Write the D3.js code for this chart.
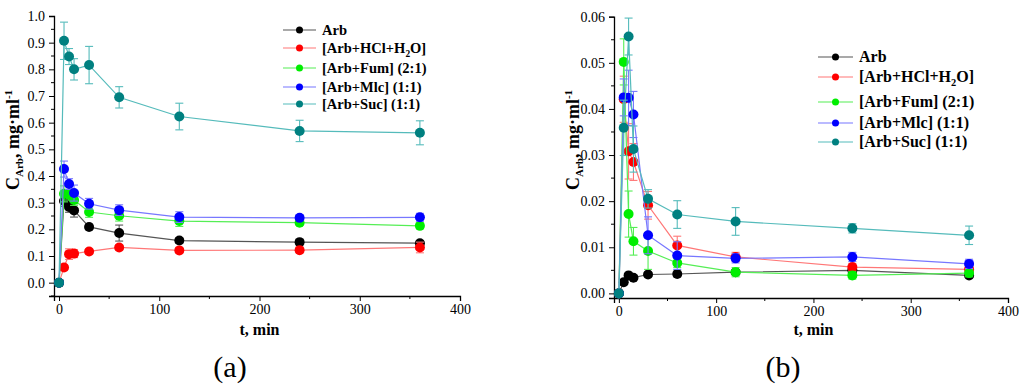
<!DOCTYPE html>
<html>
<head>
<meta charset="utf-8">
<script src="https://cdn.jsdelivr.net/npm/d3@7"></script>
<style>
  body { margin: 0; background: #fff; }
  svg, svg text { font-family: "Liberation Serif", "Times New Roman", serif; }
</style>
</head>
<body>
<svg id="chart" width="1024" height="386"></svg>
<script>
const times = [0, 5, 10, 15, 30, 60, 120, 240, 360];

const seriesNames = ["Arb", "[Arb+HCl+H2O]", "[Arb+Fum] (2:1)", "[Arb+Mlc] (1:1)", "[Arb+Suc] (1:1)"];
const dotColors = ["#000000", "#ff0000", "#00ee00", "#0000ff", "#008080"];
const lineColors = ["#555555", "#ff7777", "#55ee55", "#7777ff", "#55bbbb"];

// panel (a)
const aArb = [0, 0.306, 0.284, 0.271, 0.209, 0.186, 0.158, 0.152, 0.148];
const aHcl = [0, 0.057, 0.107, 0.109, 0.117, 0.132, 0.121, 0.122, 0.132];
const aFum = [0, 0.333, 0.330, 0.310, 0.265, 0.251, 0.231, 0.225, 0.213];
const aMlc = [0, 0.426, 0.370, 0.336, 0.296, 0.272, 0.246, 0.243, 0.245];
const aSuc = [0, 0.907, 0.848, 0.800, 0.816, 0.695, 0.623, 0.569, 0.562];
const aArbErr = [0, 0.02, 0.02, 0.025, 0.01, 0.03, 0.01, 0.01, 0.01];
const aHclErr = [0, 0.01, 0.02, 0.015, 0.01, 0.01, 0.01, 0.01, 0.02];
const aFumErr = [0, 0.03, 0.02, 0.02, 0.02, 0.02, 0.02, 0.01, 0.01];
const aMlcErr = [0, 0.03, 0.02, 0.03, 0.02, 0.02, 0.02, 0.01, 0.015];
const aSucErr = [0, 0.07, 0.03, 0.04, 0.07, 0.04, 0.05, 0.04, 0.045];

// panel (b)
const bArb = [0, 0.0024, 0.0039, 0.0034, 0.0041, 0.0042, 0.0046, 0.0050, 0.0039];
const bHcl = [0, 0.0421, 0.0308, 0.0285, 0.0191, 0.0104, 0.0079, 0.0057, 0.0052];
const bFum = [0, 0.0502, 0.0172, 0.0113, 0.0092, 0.0066, 0.0046, 0.0039, 0.0044];
const bMlc = [0, 0.0425, 0.0424, 0.0388, 0.0126, 0.0082, 0.0076, 0.0079, 0.0064];
const bSuc = [0, 0.0359, 0.0557, 0.0313, 0.0205, 0.0171, 0.0156, 0.0141, 0.0126];
const bArbErr = [0, 0.0003, 0.0004, 0.0004, 0.0005, 0.0006, 0.0005, 0.0005, 0.0005];
const bHclErr = [0, 0.005, 0.006, 0.004, 0.003, 0.002, 0.001, 0.0008, 0.0008];
const bFumErr = [0, 0.005, 0.005, 0.003, 0.004, 0.001, 0.001, 0.0008, 0.0008];
const bMlcErr = [0, 0.004, 0.006, 0.005, 0.004, 0.003, 0.001, 0.001, 0.001];
const bSucErr = [0, 0.006, 0.004, 0.005, 0.002, 0.003, 0.003, 0.001, 0.002];

const xTicks = [0, 100, 200, 300, 400];
const xMinor = [50, 150, 250, 350];
const aYTicks = d3.range(0, 1.01, 0.1);
const aYMinor = d3.range(-0.05, 1.0, 0.1);
const bYTicks = d3.range(0, 0.0601, 0.01);
const bYMinor = d3.range(0.005, 0.06, 0.01);

const svg = d3.select("#chart");
const serif = "Liberation Serif, Times New Roman, serif";

function drawPanel(p) {
    const x = d3.scaleLinear().domain([-5, 400]).range(p.xRange);
    const y = d3.scaleLinear().domain(p.yDomain).range(p.yRange);
    const g = svg.append("g").attr("font-family", serif);

    // axes
    const xAxis = g.append("g")
        .attr("transform", `translate(0,${p.yRange[0]})`)
        .call(d3.axisBottom(x).tickValues(xTicks).tickSizeOuter(0).tickSize(5).tickPadding(3));
    xAxis.append("g").selectAll("line").data(xMinor).join("line")
        .attr("x1", d => x(d)).attr("x2", d => x(d))
        .attr("y1", 0).attr("y2", 3)
        .attr("stroke", "#000");

    const yAxis = g.append("g")
        .attr("transform", `translate(${p.xRange[0]},0)`)
        .call(d3.axisLeft(y).tickValues(p.yTicks).tickFormat(d3.format(p.fmt)).tickSizeOuter(0).tickSize(5).tickPadding(4));
    yAxis.append("g").selectAll("line").data(p.yMinor).join("line")
        .attr("y1", d => y(d)).attr("y2", d => y(d))
        .attr("x1", 0).attr("x2", -3)
        .attr("stroke", "#000");

    g.selectAll(".domain").attr("stroke", "#000").attr("stroke-width", 1.3);
    xAxis.attr("font-family", serif);
    yAxis.attr("font-family", serif);
    g.selectAll(".tick text")
        .attr("font-size", 14)
        .attr("fill", "#000");

    // axis titles
    g.append("text")
        .attr("x", (x(0) + x(400)) / 2)
        .attr("y", 335)
        .attr("text-anchor", "middle")
        .attr("font-weight", "bold")
        .attr("font-size", 16)
        .text("t, min");

    const yt = g.append("text")
        .attr("transform", `translate(${p.yTitleX},140) rotate(-90)`)
        .attr("text-anchor", "middle")
        .attr("font-weight", "bold")
        .attr("font-size", 18);
    yt.append("tspan").text("C");
    yt.append("tspan").attr("font-size", 11).attr("dy", 4).text("Arb");
    yt.append("tspan").attr("dy", -4).text(", mg·ml");
    yt.append("tspan").attr("font-size", 11).attr("dy", -7).text("-1");

    g.append("text")
        .attr("x", p.labelX)
        .attr("y", 377)
        .attr("text-anchor", "middle")
        .attr("font-size", 30)
        .text(p.label);

    // series
    const line = d3.line().x(d => x(d.t)).y(d => y(d.v));
    p.series.forEach((vals, i) => {
        const pts = times.map((t, j) => ({ t: t, v: vals[j], e: p.errs[i][j] }));
        const sg = g.append("g");
        sg.append("path")
            .datum(pts)
            .attr("fill", "none")
            .attr("stroke", lineColors[i])
            .attr("stroke-width", 1.2)
            .attr("d", line);
        const eb = sg.selectAll(".err").data(pts.filter(d => d.e > 0)).join("g")
            .attr("stroke", lineColors[i]).attr("stroke-width", 1.1);
        eb.append("line")
            .attr("x1", d => x(d.t)).attr("x2", d => x(d.t))
            .attr("y1", d => y(d.v - d.e)).attr("y2", d => y(d.v + d.e));
        eb.append("line")
            .attr("x1", d => x(d.t) - 4).attr("x2", d => x(d.t) + 4)
            .attr("y1", d => y(d.v - d.e)).attr("y2", d => y(d.v - d.e));
        eb.append("line")
            .attr("x1", d => x(d.t) - 4).attr("x2", d => x(d.t) + 4)
            .attr("y1", d => y(d.v + d.e)).attr("y2", d => y(d.v + d.e));
        sg.selectAll("circle").data(pts).join("circle")
            .attr("cx", d => x(d.t)).attr("cy", d => y(d.v))
            .attr("r", 5)
            .attr("fill", dotColors[i]);
    });

    // legend
    const lg = g.append("g");
    seriesNames.forEach((name, i) => {
        const ly = p.legendY[i];
        lg.append("line")
            .attr("x1", p.legendX).attr("x2", p.legendX + p.legendLen)
            .attr("y1", ly).attr("y2", ly)
            .attr("stroke", lineColors[i]).attr("stroke-width", 1.2);
        lg.append("circle")
            .attr("cx", p.legendX + p.legendLen / 2).attr("cy", ly)
            .attr("r", 3.5).attr("fill", dotColors[i]);
        const t = lg.append("text")
            .attr("x", p.legendX + p.legendLen + 6)
            .attr("y", ly + p.legendFont * 0.33)
            .attr("font-weight", "bold")
            .attr("font-size", p.legendFont);
        if (name.includes("H2O")) {
            t.append("tspan").text("[Arb+HCl+H");
            t.append("tspan").attr("font-size", p.legendFont * 0.65).attr("dy", 4).text("2");
            t.append("tspan").attr("dy", -4).text("O]");
        } else {
            t.text(name);
        }
    });
}

drawPanel({
    xRange: [54, 460],
    yDomain: [-0.05, 1.0],
    yRange: [296, 16],
    yTicks: aYTicks,
    yMinor: aYMinor,
    fmt: ".1f",
    yTitleX: 19,
    label: "(a)",
    labelX: 230,
    series: [aArb, aHcl, aFum, aMlc, aSuc],
    errs: [aArbErr, aHclErr, aFumErr, aMlcErr, aSucErr],
    legendX: 283, legendLen: 33, legendFont: 14.5,
    legendY: [30, 48, 68, 87, 104]
});

drawPanel({
    xRange: [614, 1008],
    yDomain: [-0.001, 0.06],
    yRange: [298, 16.7],
    yTicks: bYTicks,
    yMinor: bYMinor,
    fmt: ".2f",
    yTitleX: 579,
    label: "(b)",
    labelX: 783,
    series: [bArb, bHcl, bFum, bMlc, bSuc],
    errs: [bArbErr, bHclErr, bFumErr, bMlcErr, bSucErr],
    legendX: 818, legendLen: 35, legendFont: 16,
    legendY: [57, 77, 102, 123, 142]
});
</script>
</body>
</html>
